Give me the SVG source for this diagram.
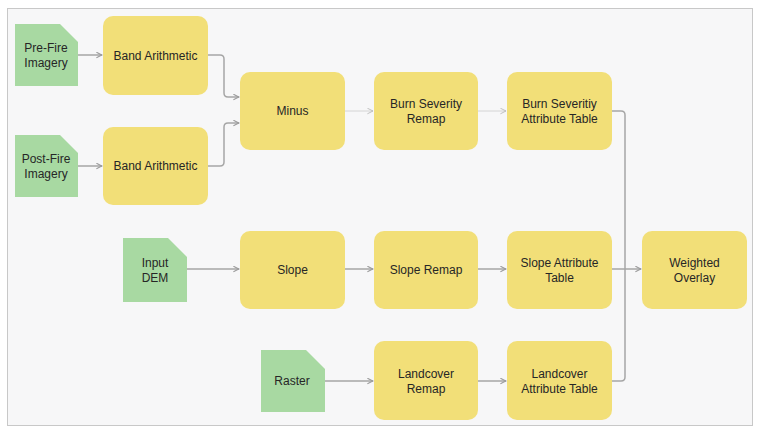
<svg xmlns="http://www.w3.org/2000/svg" width="765" height="433" viewBox="0 0 765 433">
<defs>
<style>
.proc{fill:#f2df78;}
.data{fill:#a8d9a2;}
text{font-family:"Liberation Sans",Arial,sans-serif;font-size:12px;fill:#262626;text-anchor:middle;}
.c{fill:none;stroke:#a6a6a6;stroke-width:1.5;marker-end:url(#arr);}
.n{fill:none;stroke:#a6a6a6;stroke-width:1.5;}
.t{fill:none;stroke:#d4d4d4;stroke-width:1;marker-end:url(#arr2);}
</style>
<marker id="arr" viewBox="0 0 10 10" refX="9" refY="5" markerWidth="7" markerHeight="7" markerUnits="userSpaceOnUse" orient="auto">
<path d="M1,1 L9,5 L1,9" fill="none" stroke="#999" stroke-width="1.5"/>
</marker>
<marker id="arr2" viewBox="0 0 10 10" refX="9" refY="5" markerWidth="7" markerHeight="7" markerUnits="userSpaceOnUse" orient="auto">
<path d="M1,1 L9,5 L1,9" fill="none" stroke="#bbb" stroke-width="1.3"/>
</marker>
</defs>
<rect x="0" y="0" width="765" height="433" fill="#ffffff"/>
<rect x="7.5" y="8.5" width="745" height="417" fill="#f7f7f8" stroke="#c8c8c8" stroke-width="1"/>

<g id="connectors">
<path class="c" d="M78,55 H102"/>
<path class="c" d="M78,166 H102"/>
<path class="c" d="M208,55 H220 Q224,55 224,59 V93 Q224,97 228,97 H239"/>
<path class="c" d="M208,166 H220 Q224,166 224,162 V127 Q224,123 228,123 H239"/>
<path class="t" d="M345,111 H373"/>
<path class="t" d="M478,111 H506"/>
<path class="n" d="M612,111 H621 Q625,111 625,115 V269"/>
<path class="n" d="M612,381 H621 Q625,381 625,377 V269"/>
<path class="c" d="M612,269 H641"/>
<path class="c" d="M187,269 H239"/>
<path class="c" d="M345,269 H373"/>
<path class="c" d="M478,269 H506"/>
<path class="c" d="M325,381 H373"/>
<path class="c" d="M478,381 H506"/>
</g>

<g id="pre-fire">
<path class="data" d="M15,24 H60 L78,42 V86 H15 Z"/>
<text x="46" y="52">Pre-Fire</text>
<text x="46" y="67">Imagery</text>
</g>
<g id="post-fire">
<path class="data" d="M15,135 H60 L78,153 V197 H15 Z"/>
<text x="46" y="163">Post-Fire</text>
<text x="46" y="178">Imagery</text>
</g>
<g id="band1">
<rect class="proc" x="103" y="16" width="105" height="79" rx="10"/>
<text x="155.5" y="60">Band Arithmetic</text>
</g>
<g id="band2">
<rect class="proc" x="103" y="127" width="105" height="78" rx="10"/>
<text x="155.5" y="170">Band Arithmetic</text>
</g>
<g id="minus">
<rect class="proc" x="240" y="72" width="105" height="78" rx="10"/>
<text x="292.5" y="115">Minus</text>
</g>
<g id="burn-remap">
<rect class="proc" x="374" y="72" width="104" height="78" rx="10"/>
<text x="426" y="108">Burn Severity</text>
<text x="426" y="123">Remap</text>
</g>
<g id="burn-table">
<rect class="proc" x="507" y="72" width="105" height="78" rx="10"/>
<text x="559.5" y="108">Burn Severitiy</text>
<text x="559.5" y="123">Attribute Table</text>
</g>
<g id="input-dem">
<path class="data" d="M123,238 H168 L187,257 V302 H123 Z"/>
<text x="155" y="267">Input</text>
<text x="155" y="282">DEM</text>
</g>
<g id="slope">
<rect class="proc" x="240" y="231" width="105" height="78" rx="10"/>
<text x="292.5" y="274">Slope</text>
</g>
<g id="slope-remap">
<rect class="proc" x="374" y="231" width="104" height="78" rx="10"/>
<text x="426" y="274">Slope Remap</text>
</g>
<g id="slope-table">
<rect class="proc" x="507" y="231" width="105" height="78" rx="10"/>
<text x="559.5" y="267">Slope Attribute</text>
<text x="559.5" y="282">Table</text>
</g>
<g id="weighted-overlay">
<rect class="proc" x="642" y="231" width="105" height="78" rx="10"/>
<text x="694.5" y="267">Weighted</text>
<text x="694.5" y="282">Overlay</text>
</g>
<g id="raster">
<path class="data" d="M261,350 H306 L325,369 V412 H261 Z"/>
<text x="292" y="385">Raster</text>
</g>
<g id="landcover-remap">
<rect class="proc" x="374" y="341" width="104" height="79" rx="10"/>
<text x="426" y="378">Landcover</text>
<text x="426" y="393">Remap</text>
</g>
<g id="landcover-table">
<rect class="proc" x="507" y="341" width="105" height="79" rx="10"/>
<text x="559.5" y="378">Landcover</text>
<text x="559.5" y="393">Attribute Table</text>
</g>
</svg>
